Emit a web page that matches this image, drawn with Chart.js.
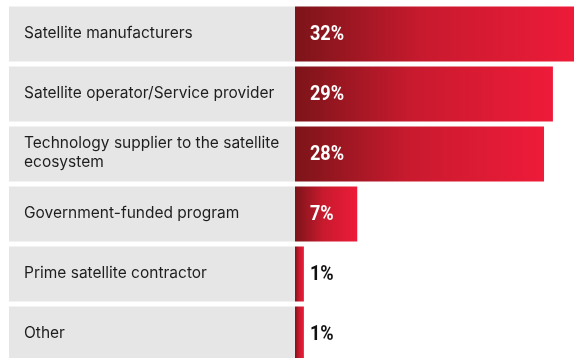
<!DOCTYPE html>
<html>
<head>
<meta charset="utf-8">
<script src="https://cdn.jsdelivr.net/npm/chart.js@4.4.1/dist/chart.umd.min.js"></script>
<style>
  html, body { margin: 0; padding: 0; background: #fff; overflow: hidden; }
  #wrap { position: relative; width: 574px; height: 364px; }
</style>
</head>
<body>
<div id="wrap"><canvas id="chart"></canvas></div>
<script>
const categories = [
    ["Satellite manufacturers"],
    ["Satellite operator/Service provider"],
    ["Technology supplier to the satellite", "ecosystem"],
    ["Government-funded program"],
    ["Prime satellite contractor"],
    ["Other"]
];
const shares = [32, 29, 28, 7, 1, 1];
const shareLabels = ["32%", "29%", "28%", "7%", "1%", "1%"];

const DARK_RED = "#7c1419";
const BRIGHT_RED = "#ee1b39";
const BOX_GRAY = "#e6e6e6";

// gray label boxes sit left of the plot, one per category, same height as the bar
const labelBoxes = {
    id: "labelBoxes",
    beforeDatasetsDraw(chart) {
        const ctx = chart.ctx;
        const meta = chart.getDatasetMeta(0);
        const left = 9;
        const right = chart.chartArea.left;
        ctx.save();
        meta.data.forEach((bar, i) => {
            const top = bar.y - bar.height / 2;
            ctx.fillStyle = BOX_GRAY;
            ctx.fillRect(left, top, right - left, bar.height);
            ctx.fillStyle = "#1e1e1e";
            ctx.font = "15.5px Inter, 'Open Sans', sans-serif";
            ctx.textBaseline = "middle";
            const lines = categories[i];
            const lh = 19.5;
            lines.forEach((line, j) => {
                const y = bar.y - 1 + (j - (lines.length - 1) / 2) * lh;
                ctx.fillText(line, 24, y);
            });
        });
        ctx.restore();
    },
    afterDatasetsDraw(chart) {
        const ctx = chart.ctx;
        const meta = chart.getDatasetMeta(0);
        ctx.save();
        ctx.font = "bold 21px Roboto, 'Liberation Sans', sans-serif";
        ctx.textBaseline = "middle";
        meta.data.forEach((bar, i) => {
            const wide = bar.x - bar.base > 40;
            ctx.fillStyle = wide ? "#ffffff" : "#111111";
            // squeeze the figures horizontally for a condensed look
            ctx.save();
            ctx.translate(chart.chartArea.left + 15, bar.y + 1);
            ctx.scale(0.86, 1);
            ctx.fillText(shareLabels[i], 0, 0);
            ctx.restore();
        });
        ctx.restore();
    }
};

const canvas = document.getElementById("chart");
const chart = new Chart(canvas, {
    type: "bar",
    data: {
        labels: categories.map(c => c.join(" ")),
        datasets: [{
            data: shares,
            backgroundColor: (context) => {
                const ch = context.chart;
                if (!ch.chartArea) return BRIGHT_RED;
                const x = ch.scales.x;
                const x0 = x.getPixelForValue(0);
                const x1 = x.getPixelForValue(context.raw);
                const g = ch.ctx.createLinearGradient(x0, 0, Math.max(x1, x0 + 1), 0);
                g.addColorStop(0, DARK_RED);
                g.addColorStop(0.45, "#c81a2e");
                g.addColorStop(1, BRIGHT_RED);
                return g;
            },
            borderWidth: 0,
            barPercentage: 55 / 60,
            categoryPercentage: 1
        }]
    },
    options: {
        indexAxis: "y",
        responsive: true,
        maintainAspectRatio: false,
        animation: false,
        layout: { padding: { left: 295, top: 4, right: 0, bottom: 0 } },
        scales: {
            x: {
                min: 0,
                max: 31.37,
                display: false,
                grid: { display: false }
            },
            y: {
                display: false,
                grid: { display: false }
            }
        },
        plugins: {
            legend: { display: false },
            tooltip: { enabled: false }
        }
    },
    plugins: [labelBoxes]
});
</script>
</body>
</html>
